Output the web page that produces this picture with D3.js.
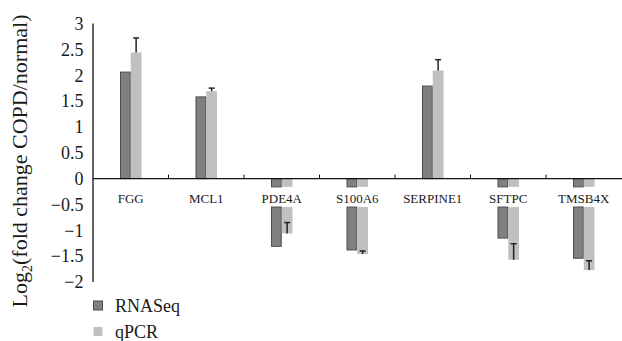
<!DOCTYPE html>
<html>
<head>
<meta charset="utf-8">
<script src="https://cdn.jsdelivr.net/npm/d3@7"></script>
<style>
  body { margin: 0; background: #fff; }
  svg { display: block; }
</style>
</head>
<body>
<div id="chart"></div>
<script>
// data
let genes = ["FGG", "MCL1", "PDE4A", "S100A6", "SERPINE1", "SFTPC", "TMSB4X"];
let rnaseq = [2.06, 1.58, -1.31, -1.38, 1.79, -1.15, -1.54];
let qpcr = [2.44, 1.69, -1.06, -1.46, 2.09, -1.57, -1.77];
let qpcrErr = [0.28, 0.06, 0.21, 0.06, 0.21, 0.31, 0.18];
let yTicks = [3, 2.5, 2, 1.5, 1, 0.5, 0, -0.5, -1, -1.5, -2];
let seriesNames = ["RNASeq", "qPCR"];

function init() {
    let width = 622, height = 341;
    let left = 93, right = 621.5, top = 23.5, bottom = 282;
    let svg = d3.select("#chart").append("svg")
            .attr("width", width)
            .attr("height", height)
            .attr("font-family", "'Liberation Serif', 'DejaVu Serif', serif")
            .attr("fill", "#1a1a1a");

    let x = d3.scaleBand().domain(genes).range([left, right]).padding(0);
    let y = d3.scaleLinear().domain([-2, 3]).range([bottom, top]);
    let barW = 10.75;
    // negative bars are broken to make room for the gene labels
    let breakTop = -0.16, breakBottom = -0.55;

    let colors = ["#808080", "#c0c0c0"];
    let series = [rnaseq, qpcr];

    function pieces(v) {
        if (v >= 0) return [[0, v]];
        return [[0, breakTop], [breakBottom, v]];
    }
    series.forEach((vals, s) => {
        let segs = [];
        vals.forEach((v, i) => pieces(v).forEach(p => segs.push({g: genes[i], a: p[0], b: p[1]})));
        svg.append("g").selectAll("rect")
            .data(segs)
            .join("rect")
            .attr("x", d => x(d.g) + x.bandwidth() / 2 - barW + s * barW + (s == 0 ? 0.5 : 0))
            .attr("width", s == 0 ? barW - 1 : barW)
            .attr("y", d => y(Math.max(d.a, d.b)))
            .attr("height", d => Math.abs(y(d.a) - y(d.b)))
            .attr("fill", colors[s])
            .attr("stroke", s == 0 ? "#4d4d4d" : "none")
            .attr("stroke-width", 1);
    });

    // error bars on qPCR (drawn from the bar end upwards)
    let eb = svg.append("g").attr("stroke", "#222").attr("stroke-width", 1.5);
    genes.forEach((g, i) => {
        let cx = x(g) + x.bandwidth() / 2 + barW / 2;
        let y0 = y(qpcr[i]), y1 = y(qpcr[i] + qpcrErr[i]);
        eb.append("line").attr("x1", cx).attr("x2", cx).attr("y1", y0).attr("y2", y1);
        eb.append("line").attr("x1", cx - 3).attr("x2", cx + 3).attr("y1", y1).attr("y2", y1);
    });

    // zero line with small ticks between genes
    svg.append("line")
        .attr("x1", left).attr("x2", width)
        .attr("y1", y(0)).attr("y2", y(0))
        .attr("stroke", "#111").attr("stroke-width", 1.3);
    svg.append("g").selectAll("line")
        .data(genes.slice(1))
        .join("line")
        .attr("x1", d => x(d)).attr("x2", d => x(d))
        .attr("y1", y(0)).attr("y2", y(0) - 4)
        .attr("stroke", "#111").attr("stroke-width", 1);

    // y axis
    svg.append("line")
        .attr("x1", left).attr("x2", left)
        .attr("y1", top).attr("y2", bottom)
        .attr("stroke", "#111").attr("stroke-width", 1.3);
    svg.append("g").selectAll("text")
        .data(yTicks)
        .join("text")
        .attr("x", 83.5)
        .attr("y", d => y(d))
        .attr("dy", "0.35em")
        .attr("text-anchor", "end")
        .attr("font-size", 18)
        .text(d => d3.format("")(d).replace("-", "\u2212"));

    // gene labels
    svg.append("g").selectAll("text")
        .data(genes)
        .join("text")
        .attr("x", d => x(d) + x.bandwidth() / 2)
        .attr("y", 203)
        .attr("text-anchor", "middle")
        .attr("font-size", 13)
        .text(d => d);

    // y title
    let title = svg.append("text")
        .attr("transform", "translate(27,161) rotate(-90)")
        .attr("text-anchor", "middle")
        .attr("font-size", 22);
    title.append("tspan").text("Log");
    title.append("tspan").attr("dy", 5).attr("font-size", 14).text("2");
    title.append("tspan").attr("dy", -5).text("(fold change COPD/normal)");

    // legend
    let leg = svg.append("g");
    seriesNames.forEach((n, i) => {
        let ly = 301 + i * 26;
        leg.append("rect")
            .attr("x", 93.5).attr("y", ly)
            .attr("width", 9).attr("height", 9)
            .attr("fill", colors[i])
            .attr("stroke", i == 0 ? "#4d4d4d" : "none");
        leg.append("text")
            .attr("x", 115).attr("y", ly + 5)
            .attr("dy", "0.35em")
            .attr("font-size", 18)
            .text(n);
    });
}
window.onload = init;
</script>
</body>
</html>
